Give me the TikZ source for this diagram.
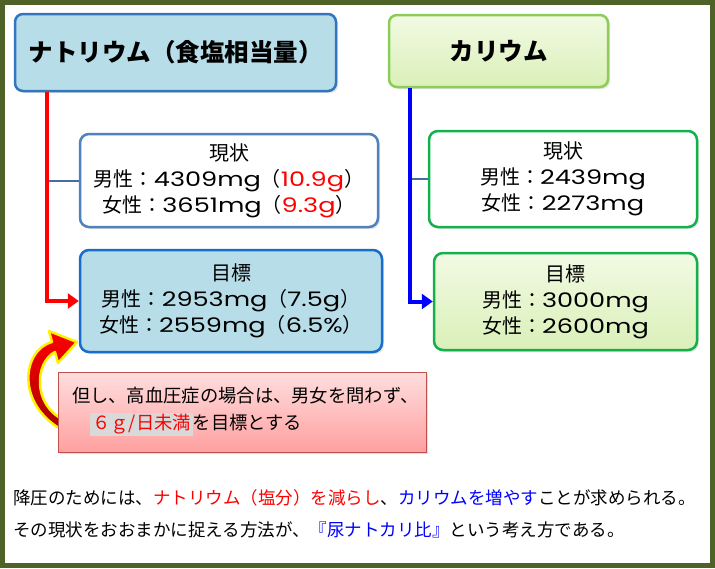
\documentclass[tikz,border=0pt]{standalone}
\usepackage{fontspec}
\setmainfont{Noto Sans CJK JP}
\newfontfamily\digitfont{Poppins}[FakeStretch=1.28]
\usetikzlibrary{arrows.meta,shadows}

\definecolor{framegreen}{RGB}{79,98,40}
\definecolor{nafill}{RGB}{183,221,232}
\definecolor{naborder}{RGB}{52,118,190}
\definecolor{natargetborder}{RGB}{24,108,204}
\definecolor{nanowborder}{RGB}{79,129,189}
\definecolor{ktop}{RGB}{242,250,228}
\definecolor{kbottom}{RGB}{218,240,184}
\definecolor{kborder}{RGB}{140,205,90}
\definecolor{kdataborder}{RGB}{20,176,75}
\definecolor{linkgray}{RGB}{70,110,160}
\definecolor{notetop}{RGB}{255,222,222}
\definecolor{notebottom}{RGB}{255,160,160}
\definecolor{noteborder}{RGB}{192,80,77}
\definecolor{markgray}{RGB}{217,217,217}

\newcommand{\dg}[1]{{\digitfont #1}}

\tikzset{
  frame/.style={draw=framegreen,line width=5pt},
  titlebox/.style={rounded corners=8pt,line width=2.5pt,
    font=\fontsize{24.5}{28}\selectfont\bfseries,
    drop shadow={opacity=0.2,shadow xshift=2pt,shadow yshift=-2pt}},
  databox/.style={rounded corners=9pt,line width=2.5pt,align=center,
    font=\fontsize{20}{26}\selectfont,
    drop shadow={opacity=0.2,shadow xshift=2pt,shadow yshift=-2pt}},
  mainline/.style={line width=4pt,-{Triangle[length=11pt,width=15pt]}},
  sidelink/.style={draw=linkgray,line width=2pt},
  notebox/.style={draw=noteborder,line width=0.8pt,top color=notetop,
    bottom color=notebottom,text width=340pt,inner xsep=14pt,
    minimum height=80pt,align=left,font=\fontsize{18.3}{27}\selectfont,
    drop shadow={opacity=0.25,shadow xshift=2pt,shadow yshift=-2pt}},
  summary/.style={anchor=west,align=left,inner sep=0pt,
    font=\fontsize{17.5}{32}\selectfont}
}

\begin{document}
\begin{tikzpicture}[x=1pt,y=-1pt]

% Define frame of picture
\useasboundingbox (0,0) rectangle (715,568);
\fill[white] (0,0) rectangle (715,568);
\draw[frame] (2.5,2.5) rectangle (712.5,565.5);

% Construct sodium column
\node[titlebox,fill=nafill,draw=naborder,minimum width=321pt,minimum height=77pt]
  (natitle) at (175.5,52.5) {ナトリウム（食塩相当量）};
\node[databox,fill=white,draw=nanowborder,minimum width=298pt,minimum height=93pt]
  (nanow) at (229,180.5)
  {現状\\男性：\dg{4309mg}（\textcolor{red}{\dg{10.9g}}）\\女性：\dg{3651mg}（\textcolor{red}{\dg{9.3g}}）};
\node[databox,fill=nafill,draw=natargetborder,minimum width=302pt,minimum height=102pt]
  (natarget) at (231,301)
  {目標\\男性：\dg{2953mg}（\dg{7.5g}）\\女性：\dg{2559mg}（\dg{6.5\%}）};

% Construct potassium column
\node[titlebox,top color=ktop,bottom color=kbottom,draw=kborder,minimum width=219pt,minimum height=72pt]
  (katitle) at (498.5,51) {カリウム};
\node[databox,fill=white,draw=kdataborder,minimum width=268pt,minimum height=96pt]
  (know) at (563,179)
  {現状\\男性：\dg{2439mg}\\女性：\dg{2273mg}};
\node[databox,top color=ktop,bottom color=kbottom,draw=kdataborder,minimum width=263pt,minimum height=97pt]
  (ktarget) at (565.5,301.5)
  {目標\\男性：\dg{3000mg}\\女性：\dg{2600mg}};

% Connect titles to their boxes
\draw[sidelink] (nanow.west) -- ++(-31,0);
\draw[sidelink] (know.west) -- ++(-17,0);
\draw[mainline,red] ([xshift=33pt]natitle.south west) |- (natarget.west);
\draw[mainline,blue] ([xshift=22pt]katitle.south west) |- (ktarget.west);

% Construct curved arrow behind the note
\draw[draw=yellow,line width=2.5pt,line join=round,top color=red,bottom color=red!65!black]
  (52,342) -- (49,331) -- (77,342) -- (58,363) -- (55,352)
  .. controls (35,362) and (32,405) .. (64,420) -- (64,431)
  .. controls (15,405) and (22,350) .. (52,342) -- cycle;

% Construct note
\node[notebox] (note) at (242,412)
  {但し、高血圧症の場合は、男女を問わず、\\　{\setlength{\fboxsep}{2pt}\colorbox{markgray}{\textcolor{red}{６ｇ/日未満}}}を目標とする};

% Summary text
\node[summary] (summarytext) at (13,514)
  {降圧のためには、\textcolor{red}{ナトリウム（塩分）を減らし}、\textcolor{blue}{カリウムを増やす}ことが求められる。\\
   その現状をおおまかに捉える方法が、\textcolor{blue}{『尿ナトカリ比』}という考え方である。};
\end{tikzpicture}
\end{document}
